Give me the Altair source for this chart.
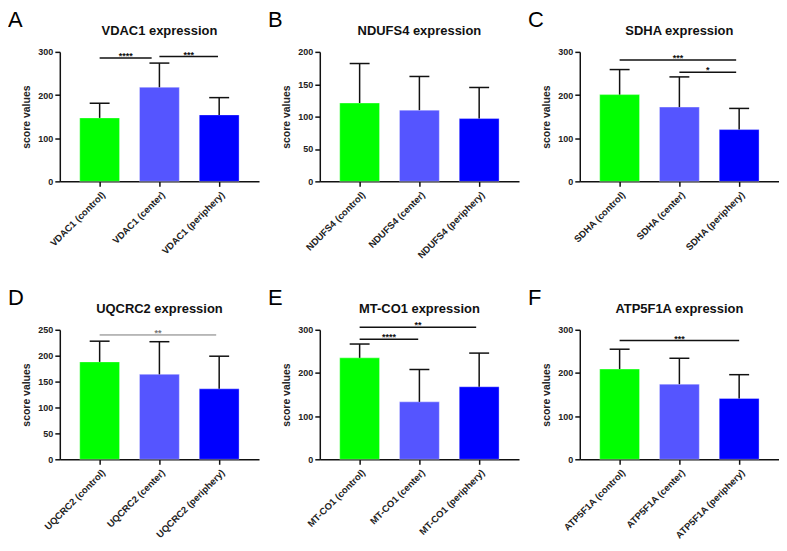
import altair as alt
import pandas as pd

# ---------------- data ----------------
groups = ["control", "center", "periphery"]
genes = ["VDAC1", "NDUFS4", "SDHA", "UQCRC2", "MT-CO1", "ATP5F1A"]
letters = ["A", "B", "C", "D", "E", "F"]
means = [
    [147, 218, 154],
    [121, 110, 97],
    [201, 172, 120],
    [188, 164, 136],
    [235, 133, 168],
    [209, 174, 141],
]
sds = [
    [34, 56, 40],
    [61, 52, 48],
    [58, 70, 49],
    [40, 63, 63],
    [32, 75, 78],
    [46, 60, 55],
]
y_max = [300, 200, 300, 250, 300, 300]
y_step = [100, 50, 100, 50, 100, 100]
# significance brackets: (from group index, to group index, stars, level)
brackets = [
    [(0, 1, "****", 286), (1, 2, "***", 289)],
    [],
    [(0, 2, "***", 281), (1, 2, "*", 253)],
    [(0, 2, "**", 240)],
    [(0, 1, "****", 278), (0, 2, "**", 306)],
    [(0, 2, "***", 275)],
]
bracket_end_gap = [[0.13, 0.02], [], [0.05, 0.05], [0.05], [0.02, 0.05], [0.0]]
colors = ["#00FF00", "#5555FF", "#0000FF"]

FONT = "Liberation Sans"
W, H = 200, 130


def panel(k):
    g = genes[k]
    labels = [f"{g} ({s})" for s in groups]
    df = pd.DataFrame({
        "pos": [0, 1, 2],
        "group": groups,
        "mean": means[k],
        "sd": sds[k],
    })
    df["top"] = df["mean"] + df["sd"]
    xs = alt.Scale(domain=[-2 / 3, 8 / 3], nice=False, zero=False)
    ys = alt.Scale(domain=[0, y_max[k]], nice=False, zero=True)
    labels_js = "[" + ",".join(f"'{l}'" for l in labels) + "]"
    xaxis = alt.Axis(values=[0, 1, 2], labelExpr=f"{labels_js}[datum.value]",
                     labelAngle=-45, labelAlign="right", labelBaseline="top",
                     labelPadding=3, labelFontSize=9.5, title=None, grid=False)
    yaxis = alt.Axis(values=list(range(0, y_max[k] + 1, y_step[k])),
                     title="score values", titlePadding=6, grid=False)

    def X(f):
        return alt.X(f, scale=xs, axis=xaxis)

    def Y(f):
        return alt.Y(f, scale=ys, axis=yaxis)

    base = alt.Chart(df)
    bars = base.transform_calculate(
        x1="datum.pos - 1/3", x2="datum.pos + 1/3", zero="0"
    ).mark_bar(stroke="#ffffff", strokeOpacity=0.35, strokeWidth=1).encode(
        x=X("x1:Q"), x2="x2:Q", y=Y("mean:Q"), y2="zero:Q",
        color=alt.Color("group:N", scale=alt.Scale(domain=groups, range=colors), legend=None),
    )
    err = base.mark_rule(color="#111", strokeWidth=1.5).encode(
        x=X("pos:Q"), y=Y("mean:Q"), y2="top:Q")
    cap = base.transform_calculate(
        c1="datum.pos - 1/6", c2="datum.pos + 1/6"
    ).mark_rule(color="#111", strokeWidth=1.5).encode(
        x=X("c1:Q"), x2="c2:Q", y=Y("top:Q"))
    layers = [bars, err, cap]
    if brackets[k]:
        bdf = pd.DataFrame(brackets[k], columns=["from", "to", "stars", "level"])
        bdf["end"] = bdf["to"] - pd.Series(bracket_end_gap[k])
        bdf["mid"] = (bdf["from"] + bdf["end"]) / 2
        thin = g == "UQCRC2"
        lc = "#777777" if thin else "#111111"
        layers.append(alt.Chart(bdf).mark_rule(color=lc, strokeWidth=1 if thin else 1.5).encode(
            x=X("from:Q"), x2="end:Q", y=Y("level:Q")))
        layers.append(alt.Chart(bdf).mark_text(
            fontSize=9, font=FONT, fontWeight="bold", color=lc, baseline="alphabetic", dy=1
        ).encode(x=X("mid:Q"), y=Y("level:Q"), text="stars:N"))
    tdf = pd.DataFrame({"letter": [letters[k]], "title": [f"{g} expression"]})
    layers.append(alt.Chart(tdf).mark_text(
        align="left", baseline="alphabetic", fontSize=22, font=FONT, color="#000"
    ).encode(x=alt.value(-52), y=alt.value(-25), text="letter:N"))
    layers.append(alt.Chart(tdf).mark_text(
        align="center", baseline="alphabetic", fontSize=13, font=FONT, fontWeight="bold", color="#111"
    ).encode(x=alt.value(W / 2), y=alt.value(-17), text="title:N"))
    return alt.layer(*layers).properties(width=W, height=H)


chart = alt.concat(
    *[panel(k) for k in range(6)], columns=3,
    spacing={"row": 149, "column": 61}, bounds="flush"
).properties(padding=0).configure_view(
    stroke=None
).configure_axis(
    domainColor="#111", domainWidth=1.5, tickColor="#111", tickWidth=1.5, tickSize=5,
    labelFont=FONT, labelFontWeight="bold", labelFontSize=9, labelColor="#222",
    titleFont=FONT, titleFontWeight="bold", titleFontSize=10.5, titleColor="#222",
    labelOverlap=False, labelFlush=False,
)

chart.save("out.html", embed_options={"renderer": "svg", "actions": False})
